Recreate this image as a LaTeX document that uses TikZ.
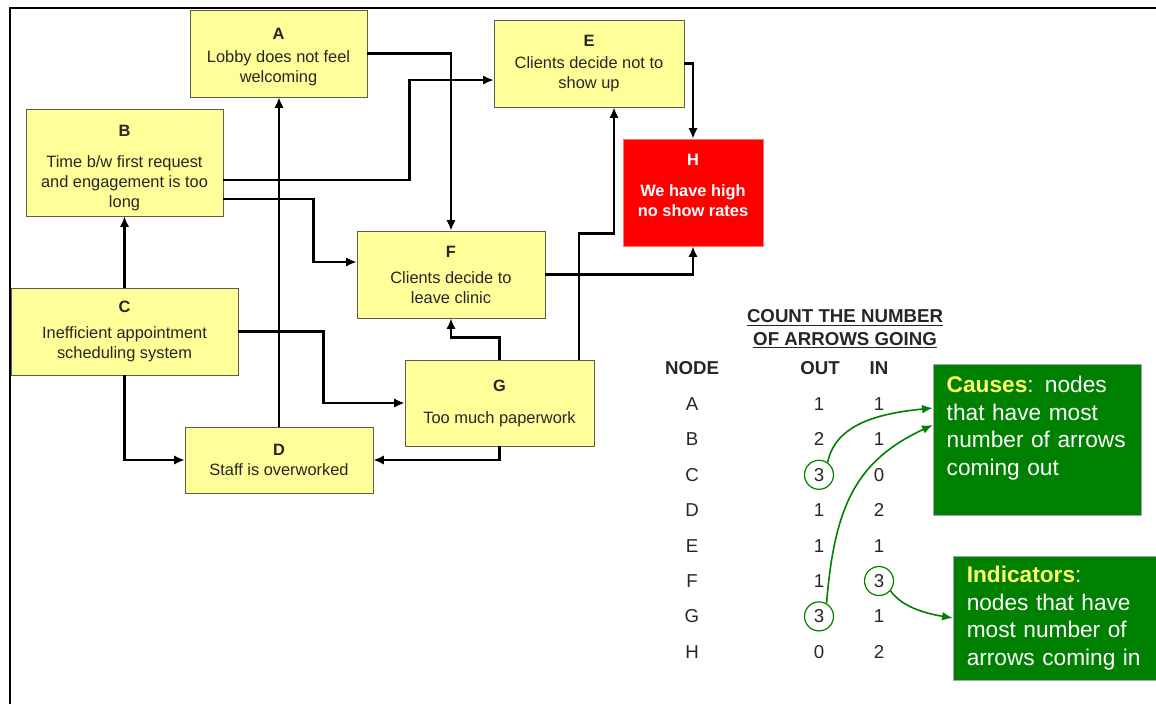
\documentclass[tikz,border=0pt]{standalone}
\usepackage{fontspec}
\setmainfont{Liberation Sans}
\setsansfont{Liberation Sans}
\usetikzlibrary{arrows.meta}
\definecolor{stickyyellow}{HTML}{FFFF99}
\definecolor{stickyedge}{HTML}{5E5E48}
\definecolor{alarmred}{HTML}{FF0000}
\definecolor{calloutgreen}{HTML}{008000}
\definecolor{calloutyellow}{HTML}{FFFF66}
\newcommand\boxfont{\fontsize{12.3}{15}\selectfont}
\newcommand\tablefont{\fontsize{14}{17}\selectfont}
\newcommand\calloutfont{\fontsize{17}{20.6}\selectfont}
\tikzset{every picture/.style={/utils/exec={\sffamily}}}

\begin{document}
\begin{tikzpicture}[x=0.75pt, y=-0.75pt]
  \tikzstyle{factor} = [rectangle, draw=stickyedge, fill=stickyyellow, text=black!85, align=center, inner sep=0pt, font=\boxfont]
  \tikzstyle{outcome} = [factor, draw=red!55!white, fill=alarmred, text=white, font=\bfseries\boxfont]
  \tikzstyle{arrow} = [-{Latex[length=8pt, width=7pt]}, line width=2pt]
  \tikzstyle{cell} = [text=black!85, font=\tablefont]
  \tikzstyle{ring} = [circle, draw=calloutgreen, line width=0.9pt, minimum size=21.75pt, inner sep=0pt]
  \tikzstyle{callout} = [rectangle, draw=black!35, fill=calloutgreen, text=white, align=left, font=\calloutfont, inner xsep=10.3pt, inner ysep=0pt]
  \tikzstyle{link} = [-{Latex[length=8pt, width=6.5pt]}, draw=calloutgreen, line width=1.2pt]

  \useasboundingbox (0,0) rectangle (1156,704);
  % only the top and left edges of the frame show
  \draw [line width=1.5pt] (10,704) |- (1156,8);

  \node (A) [factor, minimum width=132.75pt, minimum height=65.25pt] at (278.5,53.5) {\rule{0pt}{14pt}\textbf{A}\\[2pt] Lobby does not feel\\welcoming};
  \node (B) [factor, minimum width=147.75pt, minimum height=80.25pt] at (124.5,162.5) {\rule{0pt}{17pt}\textbf{B}\\[8pt] Time b/w first request\\and engagement is too\\long};
  \node (C) [factor, minimum width=170.25pt, minimum height=65.25pt] at (124.5,331.5) {\textbf{C}\\[4.5pt] Inefficient appointment\\scheduling system};
  \node (D) [factor, minimum width=141pt, minimum height=49.5pt] at (279,460) {\textbf{D}\\ Staff is overworked};
  \node (E) [factor, minimum width=142.5pt, minimum height=65.25pt] at (589,63.5) {\textbf{E}\\[2pt] Clients decide not to\\show up};
  \node (F) [factor, minimum width=141pt, minimum height=65.25pt] at (451,274.5) {\textbf{F}\\[4.5pt] Clients decide to\\leave clinic};
  \node (G) [factor, minimum width=141.75pt, minimum height=64.5pt] at (499.5,403) {\textbf{G}\\[9pt] Too much paperwork};
  \node (H) [outcome, minimum width=105pt, minimum height=80.25pt] at (693,192.5) {H\\[8pt] We have high\\no show rates\\[-4.5pt]\mbox{}};

  \draw [arrow] (A.east) -| (F.north);
  \draw [arrow] ([yshift=-13pt]B.east) -- ++(186,0) |- ([yshift=-12.4pt]E.west);
  \draw [arrow] ([yshift=-27.4pt]B.east) -- ++(90,0) |- ([yshift=9.4pt]F.west);
  \draw [arrow] (C.north) -- (B.south);
  \draw [arrow] (C.east) -- ++(85,0) |- (G.west);
  % down, then across
  \draw [arrow] (C.south) |- (D.west);
  \draw [arrow] (D.north) -- (D.north |- A.south);
  \draw [arrow] (G.north) -- ++(0,-22) -| (F.south);
  \draw [arrow] ([xshift=59.6pt]G.north) -- ++(0,-126) -| ([xshift=18.75pt]E.south);
  \draw [arrow] (G.south) |- (D.east);
  \draw [arrow] (F.east) -| (H.south);
  \draw [arrow] (E.east) -| (H.north);

  % the count table
  \node (title) [cell, font=\bfseries\tablefont, align=center] at (845,329) {\underline{COUNT THE NUMBER}\\\underline{OF ARROWS GOING}};
  \node (nodehd) [cell, font=\bfseries\tablefont] at (692,368) {NODE};
  \node (outhd) [cell, font=\bfseries\tablefont] at (820,368) {OUT};
  \node (inhd) [cell, font=\bfseries\tablefont] at (879,368) {IN};
  \foreach \n/\o/\i [count=\k from 0] in {A/1/1,B/2/1,C/3/0,D/1/2,E/1/1,F/1/3,G/3/1,H/0/2} {
    \node (n\n) [cell] at (692,{404+35.4*\k}) {\n};
    \node (o\n) [cell] at (819,{404+35.4*\k}) {\o};
    \node (i\n) [cell] at (879,{404+35.4*\k}) {\i};
  }
  \node (rC) [ring] at (oC) {};
  \node (rG) [ring] at (oG) {};
  \node (rF) [ring] at (iF) {};

  \node (causes) [callout, text width=135.4pt, minimum height=113.25pt] at (1037,439.5) {\textcolor{calloutyellow}{\textbf{Causes}}: nodes\\that have most\\number of arrows\\coming out\\~};
  \node (indicators) [callout, text width=134.6pt, minimum height=93pt] at (1056.5,618) {\textcolor{calloutyellow}{\textbf{Indicators}}:\\nodes that have\\most number of\\arrows coming in};

  \draw [link] (rC.55) .. controls +(8,-40) and +(-50,5) .. ([yshift=23.6pt]causes.west);
  \draw [link] (rG.60) .. controls +(8,-100) and +(-75,35) .. ([yshift=10.9pt]causes.west);
  \draw [link] (rF.-40) .. controls +(10,15) and +(-30,-5) .. (indicators.west);
\end{tikzpicture}
\end{document}
